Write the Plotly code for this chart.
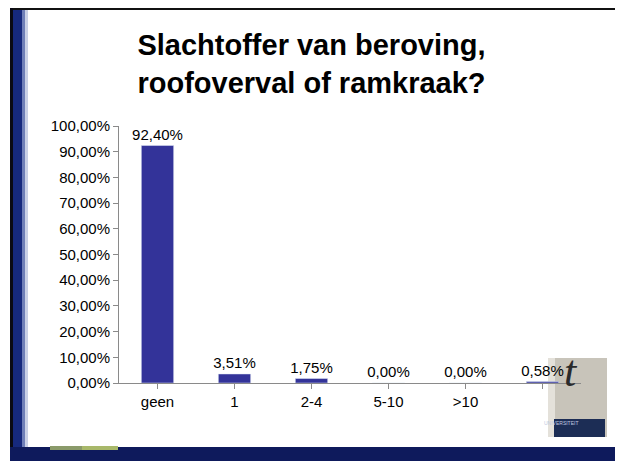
import plotly.graph_objects as go

categories = ["geen", "1", "2-4", "5-10", ">10", ""]
values = [0.9240, 0.0351, 0.0175, 0.0, 0.0, 0.0058]
value_labels = ["92,40%", "3,51%", "1,75%", "0,00%", "0,00%", "0,58%"]
ytick_vals = [0, 0.1, 0.2, 0.3, 0.4, 0.5, 0.6, 0.7, 0.8, 0.9, 1.0]
ytick_text = ["0,00%", "10,00%", "20,00%", "30,00%", "40,00%", "50,00%",
              "60,00%", "70,00%", "80,00%", "90,00%", "100,00%"]
title_text = "Slachtoffer van beroving,<br>roofoverval of ramkraak?"

OFF = 8  # page body margin
W, H = 623 - OFF, 461 - OFF
L, R, T, B = 119 - OFF, 581 - OFF, 126 - OFF, 383 - OFF

def X(px):
    return (px - OFF - L) / (R - L)

def Y(py):
    return (B - (py - OFF)) / (B - T)

xs = list(range(len(categories)))

fig = go.Figure()
fig.add_trace(go.Bar(
    x=xs, y=values, marker_color="#333399", width=0.42,
    text=value_labels, textposition="outside", cliponaxis=False,
    constraintext="none",
    textfont=dict(family="Arial, Liberation Sans", size=15, color="black"),
))

shapes = []
def rect(x0, y0, x1, y1, color, layer="above"):
    shapes.append(dict(type="rect", xref="paper", yref="paper",
                       x0=X(x0), x1=X(x1), y0=Y(y0), y1=Y(y1),
                       fillcolor=color, line=dict(width=0), layer=layer))

# slide frame (page pixel coordinates)
rect(10, 8, 620, 10, "#111111")          # top black line
rect(10, 8, 13, 461, "#0a0a14")          # left black line
rect(13, 10, 22, 461, "#16297e")         # left navy band
rect(22, 10, 25, 461, "#6f7fb8")
rect(25, 10, 28, 461, "#c9d0e6")
rect(616, 8, 620, 461, "#111111")        # right black line
rect(10, 447, 620, 461, "#0e1a5c")       # bottom navy band
rect(50, 446, 82, 450, "#8a9a6a")
rect(82, 446, 118, 450, "#a8b86a")

# logo (behind axis and labels)
rect(548, 358, 555, 437, "#e4e1da", layer="below")
rect(555, 358, 607, 437, "#c8c4ba", layer="below")
rect(554, 419, 605, 437, "#1c2d55", layer="below")

fig.update_layout(
    width=W, height=H,
    margin=dict(l=L, r=W - R, t=T, b=H - B),
    paper_bgcolor="white", plot_bgcolor="rgba(0,0,0,0)",
    showlegend=False,
    shapes=shapes,
    title=dict(text=title_text, x=0.5 - 4 / W, xref="container", xanchor="center",
               y=1 - 47 / H, yref="container", yanchor="top",
               font=dict(family="Arial, Liberation Sans", size=29, color="black",
                         weight="bold")),
    xaxis=dict(range=[-0.5, 5.5], tickvals=xs, ticktext=categories,
               showgrid=False, zeroline=False, showline=True,
               linecolor="#8a8a8a", linewidth=1,
               ticks="outside", ticklen=5, tickcolor="#8a8a8a",
               tickson="boundaries",
               tickfont=dict(family="Arial, Liberation Sans", size=15, color="black")),
    yaxis=dict(range=[0, 1], tickvals=ytick_vals, ticktext=ytick_text,
               showgrid=False, zeroline=False, showline=True,
               linecolor="#8a8a8a", linewidth=1,
               ticks="outside", ticklen=5, tickcolor="#8a8a8a",
               tickfont=dict(family="Arial, Liberation Sans", size=15, color="black")),
    bargap=0.58,
    annotations=[
        dict(text="<i>t</i>", xref="paper", yref="paper", x=X(580), y=Y(398),
             showarrow=False, font=dict(family="Liberation Serif", size=44, color="#2a2a2a")),
        dict(text="UNIVERSITEIT", xref="paper", yref="paper", x=X(580), y=Y(428),
             showarrow=False, font=dict(family="Arial", size=5, color="#c0c8e0")),
    ],
)

fig.write_html("out.html")
